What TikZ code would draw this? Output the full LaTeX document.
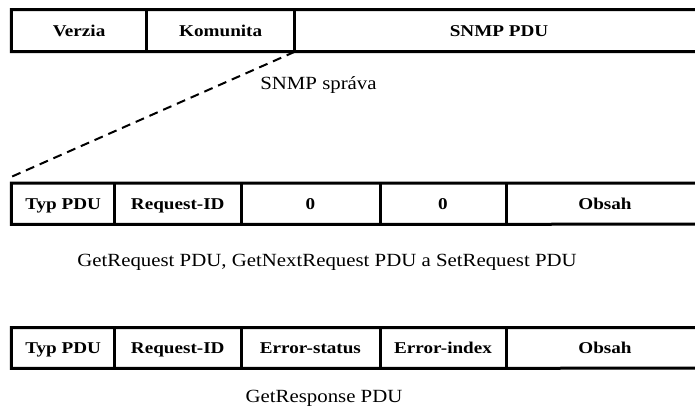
\documentclass[tikz,border=0pt]{standalone}
\usepackage{fontspec}
\newfontfamily\capfont{Liberation Serif}[FakeStretch=1.12]
\newfontfamily\cellfont{Liberation Serif}[FakeStretch=1.16]
\begin{document}
\begin{tikzpicture}[x=1pt,y=-1pt,
  cell/.style={inner sep=0pt, text height=11pt, text depth=0pt,
    font=\cellfont\bfseries\fontsize{16.5}{18}\selectfont},
  captext/.style={inner sep=0pt, anchor=base, font=\capfont\fontsize{18.6}{20}\selectfont},
  frame/.style={line width=3pt, line join=miter},
  guide/.style={line width=2pt, dash pattern=on 9pt off 6pt}]
\useasboundingbox (0,0) rectangle (695,408);
% row 1: SNMP message
\node[cell, minimum width=135.2pt, minimum height=42pt] (v) at (79.1,30.5) {Verzia};
\node[cell, minimum width=148pt, minimum height=42pt] (k) at (220.7,30.5) {Komunita};
\node[cell, minimum width=408.6pt, minimum height=42pt] (s) at (499,30.5) {SNMP PDU};
\draw[frame] (695,9.5) -| (v.south west) -- (695,51.5);
\draw[frame] (v.north east) -- (v.south east);
\draw[frame] (k.north east) -- (k.south east);
\node[captext] (msg) at (318.5,89.3) {SNMP správa};
% dashed guide
\coordinate (dend) at (11,177);
\draw[guide] (k.south east) -- (dend);
% row 2
\node[cell, minimum width=103.2pt, minimum height=41.2pt] (a1) at (63.1,203.6) {Typ PDU};
\node[cell, minimum width=126.1pt, minimum height=41.2pt] (a2) at (177.75,203.6) {Request-ID};
\node[cell, minimum width=139.2pt, minimum height=41.2pt] (a3) at (310.4,203.6) {0};
\node[cell, minimum width=126pt, minimum height=41.2pt] (a4) at (443,203.6) {0};
\node[cell, minimum width=198pt, minimum height=41.2pt] (a5) at (605,203.6) {Obsah};
\draw[frame] (695,183) -| (a1.south west) -- (695,224.2);
\foreach \n in {a1,a2,a3,a4}{\draw[frame] (\n.north east) -- (\n.south east);}
\node[captext] (cap2) at (327,266) {GetRequest PDU, GetNextRequest PDU a SetRequest PDU};
% row 3
\node[cell, minimum width=103.2pt, minimum height=40.7pt] (b1) at (63.1,347.85) {Typ PDU};
\node[cell, minimum width=126.1pt, minimum height=40.7pt] (b2) at (177.75,347.85) {Request-ID};
\node[cell, minimum width=139.2pt, minimum height=40.7pt] (b3) at (310.4,347.85) {Error-status};
\node[cell, minimum width=126pt, minimum height=40.7pt] (b4) at (443,347.85) {Error-index};
\node[cell, minimum width=198pt, minimum height=40.7pt] (b5) at (605,347.85) {Obsah};
\draw[frame] (695,327.5) -| (b1.south west) -- (695,368.2);
\foreach \n in {b1,b2,b3,b4}{\draw[frame] (\n.north east) -- (\n.south east);}
\node[captext] (cap3) at (324,402.7) {GetResponse PDU};
\end{tikzpicture}
\end{document}
